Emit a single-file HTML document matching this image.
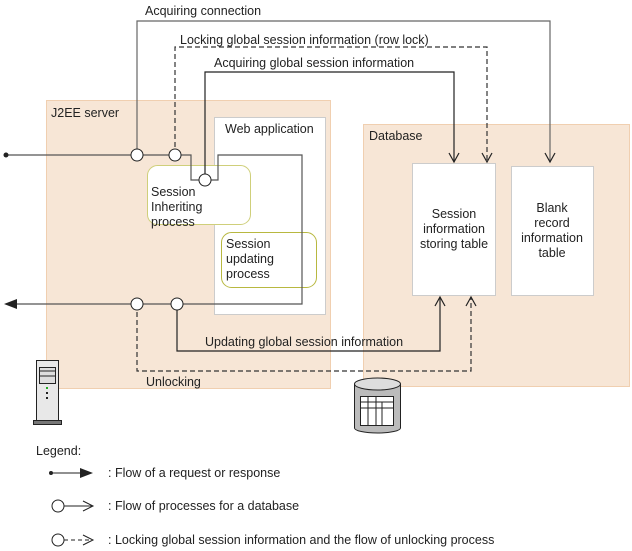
<!DOCTYPE html>
<html><head><meta charset="utf-8"><style>
html,body{margin:0;padding:0;background:#fff}
svg{display:block}
text{font-family:"Liberation Sans",Arial,sans-serif;font-size:12.5px;fill:#222}
</style></head><body>
<svg width="632" height="551" viewBox="0 0 632 551" xmlns="http://www.w3.org/2000/svg">
<rect x="46.5" y="100.5" width="284" height="288" fill="#f7e6d6" stroke="#f0cfb0"/>
<rect x="363.5" y="124.5" width="266" height="262" fill="#f7e6d6" stroke="#f0cfb0"/>
<rect x="214.5" y="117.5" width="111" height="197" fill="#fff" stroke="#ccc"/>
<rect x="147.5" y="165.5" width="103" height="59" rx="10" fill="#fff" stroke="#cfcf7a"/>
<rect x="221.5" y="232.5" width="95" height="55" rx="10" fill="#fff" stroke="#b8b840"/>
<rect x="412.5" y="163.5" width="83" height="132" fill="#fff" stroke="#ccc"/>
<rect x="511.5" y="166.5" width="82" height="129" fill="#fff" stroke="#ccc"/>

<text x="51" y="117">J2EE server</text>
<text x="225" y="133">Web application</text>
<text x="151" y="196">Session</text>
<text x="151" y="211">Inheriting</text>
<text x="151" y="226">process</text>
<text x="226" y="248">Session</text>
<text x="226" y="263">updating</text>
<text x="226" y="278">process</text>
<text x="369" y="140">Database</text>
<text x="454" y="218" text-anchor="middle">Session</text>
<text x="454" y="233" text-anchor="middle">information</text>
<text x="454" y="248" text-anchor="middle">storing table</text>
<text x="552" y="212" text-anchor="middle">Blank</text>
<text x="552" y="227" text-anchor="middle">record</text>
<text x="552" y="242" text-anchor="middle">information</text>
<text x="552" y="257" text-anchor="middle">table</text>

<text x="145" y="15">Acquiring connection</text>
<text x="180" y="44">Locking global session information (row lock)</text>
<text x="214" y="67">Acquiring global session information</text>
<text x="205" y="346">Updating global session information</text>
<text x="146" y="386">Unlocking</text>

<g fill="none" stroke="#555" stroke-width="1.2">
<path d="M6 155H191V180H218V155H302V304H14"/>
<path d="M137 155V21H550V162" stroke="#666"/>
<path d="M205 180V72H454V162" stroke="#222"/>
<path d="M175 155V47H487V162" stroke-dasharray="5,3" stroke="#333"/>
<path d="M177 304V351H440V297" stroke="#222"/>
<path d="M137 304V371H471V297" stroke-dasharray="5,3" stroke="#333"/>
<path d="M449 153L454 162L459 153M482 153L487 162L492 153M545 153L550 162L555 153" stroke="#222"/>
<path d="M435 306L440 297L445 306M466 306L471 297L476 306" stroke="#222"/>
</g>
<circle cx="6" cy="155" r="2.5" fill="#222"/>
<path d="M4 304L17 299V309Z" fill="#222"/>
<g fill="#fff" stroke="#222" stroke-width="1">
<circle cx="137" cy="155" r="6"/><circle cx="175" cy="155" r="6"/><circle cx="205" cy="180" r="6"/>
<circle cx="137" cy="304" r="6"/><circle cx="177" cy="304" r="6"/>
</g>

<g stroke="#222" stroke-width="1">
<rect x="36.5" y="360.5" width="22" height="60" fill="#e8e8e8"/>
<rect x="39.5" y="367.5" width="16" height="16" fill="#ddd"/>
<line x1="40" y1="371" x2="55" y2="371"/><line x1="40" y1="376" x2="55" y2="376"/>
<rect x="33.5" y="420.5" width="28" height="4" fill="#777"/>
</g>
<rect x="46" y="387" width="2" height="2" fill="#2a2"/><rect x="46" y="392" width="2" height="2" fill="#222"/><rect x="46" y="397" width="2" height="2" fill="#222"/>

<g stroke="#222" stroke-width="1">
<path d="M354.5 384V428A23 5 0 0 0 400.5 428V384" fill="#bbb"/>
<ellipse cx="377.5" cy="384" rx="23" ry="6" fill="#ddd"/>
<rect x="360.5" y="396.5" width="33" height="29" fill="#fff"/>
<line x1="361" y1="402" x2="393" y2="402"/><line x1="361" y1="408" x2="393" y2="408"/>
<line x1="368" y1="397" x2="368" y2="425"/><line x1="376" y1="397" x2="376" y2="425"/><line x1="382" y1="402" x2="382" y2="425"/>
</g>

<text x="36" y="455">Legend:</text>
<circle cx="51" cy="473" r="2" fill="#222"/>
<path d="M51 473H83" stroke="#222"/><path d="M80 468L93 473L80 478Z" fill="#222"/>
<text x="108" y="477">: Flow of a request or response</text>
<circle cx="58" cy="506" r="6" fill="#fff" stroke="#222"/>
<path d="M64 506H93M83 501L93 506L83 511" fill="none" stroke="#222"/>
<text x="108" y="510">: Flow of processes for a database</text>
<circle cx="58" cy="540" r="6" fill="#fff" stroke="#222"/>
<path d="M64 540H93" stroke="#222" stroke-dasharray="4,3"/><path d="M83 535L93 540L83 545" fill="none" stroke="#222"/>
<text x="108" y="544">: Locking global session information and the flow of unlocking process</text>
</svg>
</body></html>
